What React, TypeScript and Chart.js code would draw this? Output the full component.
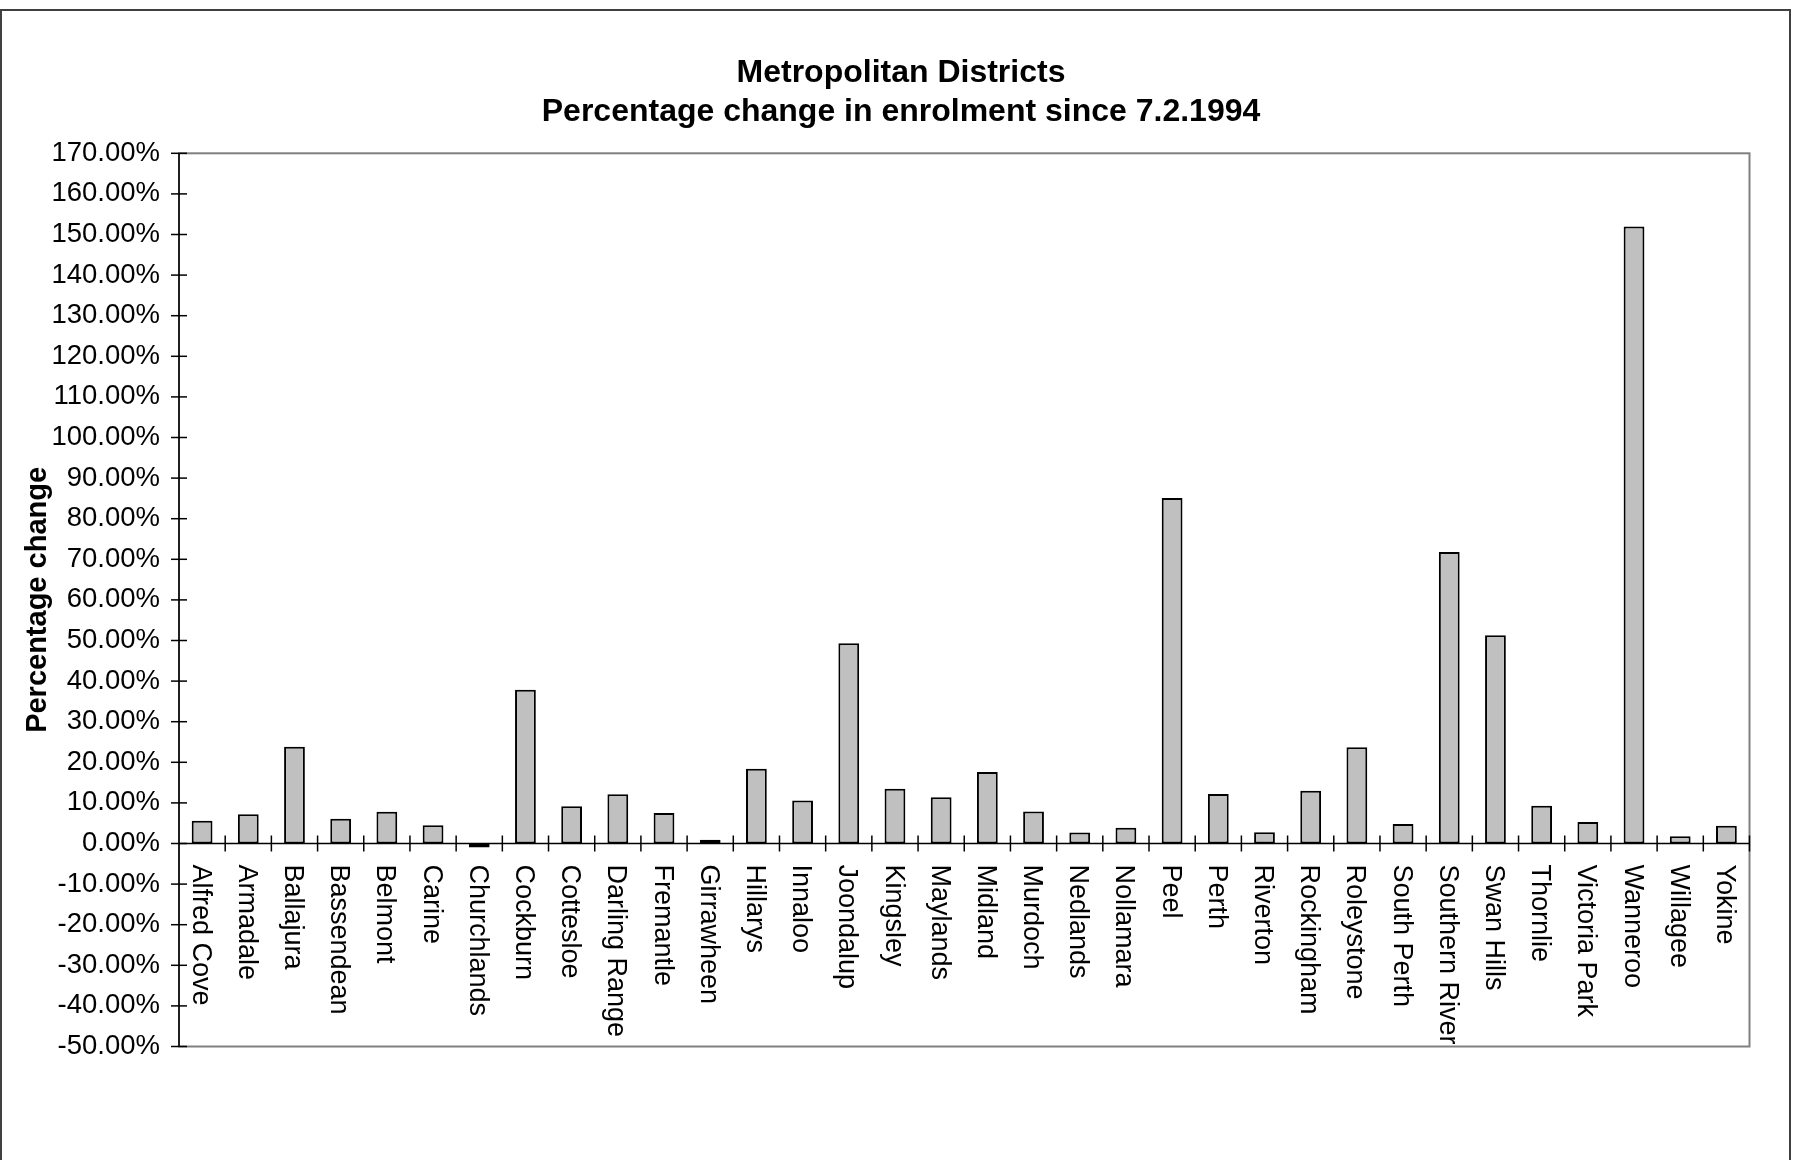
import React, { useEffect, useRef } from 'react';
import { Chart, registerables } from 'chart.js';

Chart.register(...registerables);

const titleLines = ['Metropolitan Districts', 'Percentage change in enrolment since 7.2.1994'];
const yAxisTitle = 'Percentage change';

const districts = [
  'Alfred Cove', 'Armadale', 'Ballajura', 'Bassendean', 'Belmont', 'Carine', 'Churchlands',
  'Cockburn', 'Cottesloe', 'Darling Range', 'Fremantle', 'Girrawheen', 'Hillarys', 'Innaloo',
  'Joondalup', 'Kingsley', 'Maylands', 'Midland', 'Murdoch', 'Nedlands', 'Nollamara', 'Peel',
  'Perth', 'Riverton', 'Rockingham', 'Roleystone', 'South Perth', 'Southern River', 'Swan Hills',
  'Thornlie', 'Victoria Park', 'Wanneroo', 'Willagee', 'Yokine',
];

const changePct = [
  5.6, 7.2, 23.8, 6.1, 7.8, 4.5, -1.0,
  37.9, 9.2, 12.1, 7.5, 0.9, 18.4, 10.6,
  49.3, 13.5, 11.4, 17.6, 7.9, 2.7, 3.9, 85.1,
  12.2, 2.8, 13.0, 23.7, 4.8, 71.8, 51.3,
  9.3, 5.3, 152.0, 1.8, 4.4,
];

const yMin = -50;
const yMax = 170;
const yStep = 10;

const FONT = '"Liberation Sans", Arial, Helvetica, sans-serif';

export default function App() {
  const ref = useRef<HTMLCanvasElement>(null);

  useEffect(() => {
    const canvas = ref.current;
    if (!canvas) return;

    const decor = {
      id: 'decor',
      beforeDraw(chart: any) {
        const { ctx } = chart;
        ctx.save();
        ctx.strokeStyle = '#404040';
        ctx.lineWidth = 2;
        ctx.strokeRect(1, 10, 1789, 1300);
        ctx.restore();
      },
      afterDatasetsDraw(chart: any) {
        const { ctx, chartArea: a, scales } = chart;
        const xs = scales.x;
        const ys = scales.y;
        const y0 = ys.getPixelForValue(0);
        const line = (x1: number, y1: number, x2: number, y2: number) => {
          ctx.beginPath();
          ctx.moveTo(x1, y1);
          ctx.lineTo(x2, y2);
          ctx.stroke();
        };
        ctx.save();
        // plot frame
        ctx.strokeStyle = '#808080';
        ctx.lineWidth = 2;
        ctx.strokeRect(a.left, a.top, a.right - a.left, a.bottom - a.top);
        // y axis
        ctx.strokeStyle = '#000';
        ctx.lineWidth = 1.5;
        line(a.left, a.top, a.left, a.bottom);
        ys.ticks.forEach((t: any) => {
          const py = ys.getPixelForValue(t.value);
          line(a.left - 8, py, a.left + 8, py);
        });
        // x axis at zero
        line(a.left, y0, a.right, y0);
        const half = (xs.getPixelForValue(1) - xs.getPixelForValue(0)) / 2;
        for (let i = 0; i < districts.length; i++) {
          const px = xs.getPixelForValue(i) + half;
          line(px, y0 - 8, px, y0 + 8);
        }
        // category labels (rotated clockwise)
        ctx.fillStyle = '#000';
        ctx.font = `27px ${FONT}`;
        ctx.textAlign = 'left';
        ctx.textBaseline = 'middle';
        districts.forEach((name, i) => {
          const px = xs.getPixelForValue(i);
          ctx.save();
          ctx.translate(px - 2, y0 + 21);
          ctx.rotate(Math.PI / 2);
          ctx.fillText(name, 0, 0);
          ctx.restore();
        });
        ctx.restore();
      },
    };

    const chart = new Chart(canvas, {
      type: 'bar',
      data: {
        labels: districts,
        datasets: [
          {
            data: changePct,
            backgroundColor: '#c0c0c0',
            borderColor: '#000000',
            borderWidth: 2,
            borderSkipped: false,
            barPercentage: 0.45,
            categoryPercentage: 1,
          },
        ],
      },
      options: {
        responsive: false,
        animation: false,
        devicePixelRatio: 1,
        layout: { padding: { left: 9, right: 0, top: 0, bottom: 113.5 } },
        plugins: {
          legend: { display: false },
          tooltip: { enabled: false },
          title: {
            display: true,
            text: titleLines,
            color: '#000',
            font: { family: FONT, size: 32, weight: 'bold', lineHeight: 39 / 32 },
            padding: { top: 53.5, bottom: 21.8 },
          },
        },
        scales: {
          x: { display: false },
          y: {
            min: yMin,
            max: yMax,
            grid: { display: false, drawTicks: false },
            border: { display: false },
            ticks: {
              stepSize: yStep,
              color: '#000',
              padding: 19,
              font: { family: FONT, size: 27.5 },
              callback: (v: any) => Number(v).toFixed(2) + '%',
            },
            title: {
              display: true,
              text: yAxisTitle,
              color: '#000',
              font: { family: FONT, size: 29, weight: 'bold' },
              padding: { top: 12, bottom: 0 },
            },
            afterFit: (s: any) => {
              s.width = 170;
            },
          },
          yRight: {
            position: 'right',
            display: true,
            grid: { display: false, drawTicks: false },
            border: { display: false },
            ticks: { display: false },
            afterFit: (s: any) => {
              s.width = 43.5;
            },
          },
        },
      },
      plugins: [decor],
    } as any);

    return () => chart.destroy();
  }, []);

  return (
    <div style={{ position: 'absolute', left: 0, top: 0, width: 1793, height: 1160, background: '#fff' }}>
      <canvas ref={ref} width={1793} height={1160} style={{ display: 'block', width: 1793, height: 1160 }} />
    </div>
  );
}
